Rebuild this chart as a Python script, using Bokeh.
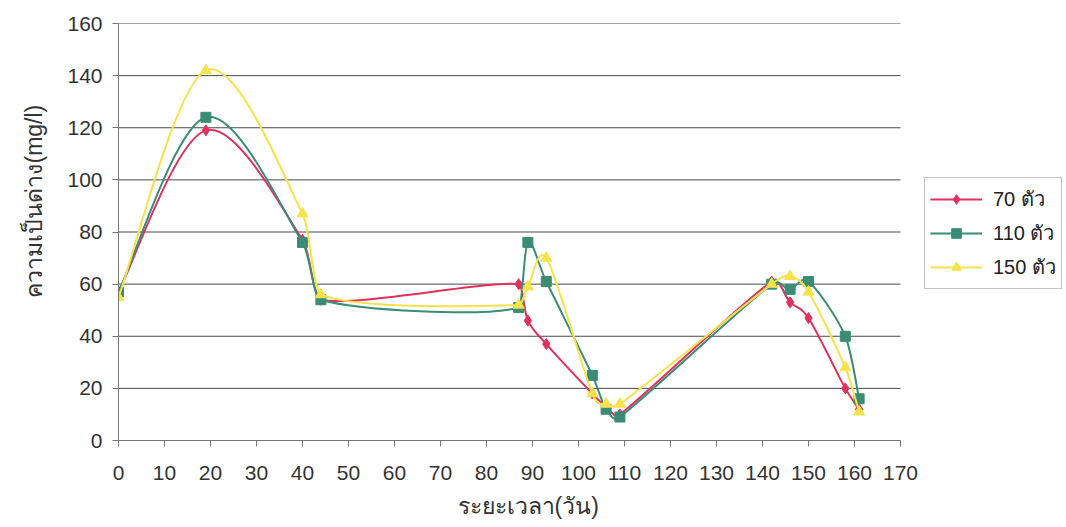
from bokeh.plotting import figure
from bokeh.models import Range1d, Legend, LegendItem, FixedTicker, ColumnDataSource, Title
from bokeh.embed import file_html
from bokeh.resources import INLINE

# ---- data ----
days = [0, 19, 40, 44, 87, 89, 93, 103, 106, 109, 142, 146, 150, 158, 161]
s70 = [57, 119, 77, 54, 60, 46, 37, 18, 13, 10, 61, 53, 47, 20, 12]
s110 = [57, 124, 76, 54, 51, 76, 61, 25, 12, 9, 60, 58, 61, 40, 16]
s150 = [55, 142, 87, 56, 52, 59, 70, 18, 14, 14, 60, 63, 57, 28, 11]
series_names = ["70 ตัว", "110 ตัว", "150 ตัว"]
x_ticks = list(range(0, 171, 10))
y_ticks = list(range(0, 161, 20))
x_title = "ระยะเวลา(วัน)"
y_title = "ความเป็นด่าง(mg/l)"
X_MAX = 170
Y_MAX = 160

colors = ["#E0305E", "#3A8C74", "#F6E24A"]
markers = ["diamond", "square", "triangle"]
msizes = [11, 10, 11]

FONT = "Liberation Sans"

# data 0..170 occupies 782 px of a 948 px wide frame; the rest holds the legend
FRAME_W = 948
DATA_W = 782
p = figure(width=1066, height=527, output_backend="svg", toolbar_location=None,
           x_range=Range1d(0, X_MAX * FRAME_W / DATA_W), y_range=Range1d(0, Y_MAX),
           min_border_left=118, min_border_top=23, min_border_bottom=87,
           min_border_right=0)
p.outline_line_color = None
p.background_fill_color = "white"
p.border_fill_color = "white"

p.xgrid.grid_line_color = None
p.ygrid.grid_line_color = None
# horizontal gridlines limited to the data area (0..170)
p.segment(x0=[0] * len(y_ticks), y0=y_ticks, x1=[X_MAX] * len(y_ticks), y1=y_ticks,
          line_color="#4a4a4a", line_width=1)

p.xaxis.ticker = FixedTicker(ticks=x_ticks)
p.yaxis.ticker = FixedTicker(ticks=y_ticks)
p.xaxis.bounds = (0, X_MAX)
for ax in (p.xaxis[0], p.yaxis[0]):
    ax.axis_line_color = "#777777"
    ax.major_tick_line_color = "#777777"
    ax.minor_tick_line_color = None
    ax.major_tick_in = 0
    ax.major_tick_out = 6
    ax.major_label_text_font = FONT
    ax.major_label_text_font_size = "21px"
    ax.major_label_text_color = "#333333"
p.xaxis.major_label_standoff = 19
p.yaxis.major_label_standoff = 10

# axis titles placed as Titles so they can be centred on the data area
tx = Title(text=x_title, align="left", offset=339, standoff=17,
           text_font=FONT, text_font_size="23px", text_font_style="normal",
           text_color="#333333")
p.add_layout(tx, "below")
ty = Title(text=y_title, align="left", offset=130, padding=13,
           text_font=FONT, text_font_size="23px", text_font_style="normal",
           text_color="#333333")
p.add_layout(ty, "left")


def smooth_segments(xs, ys):
    # Bezier control points (Excel-style smoothing) computed from the data points,
    # with handles limited so the curve does not loop back on short segments
    n = len(xs)
    seg = dict(x0=[], y0=[], x1=[], y1=[], cx0=[], cy0=[], cx1=[], cy1=[])
    for i in range(n - 1):
        xm, ym = (xs[i - 1], ys[i - 1]) if i > 0 else (xs[i], ys[i])
        xp, yp = (xs[i + 2], ys[i + 2]) if i + 2 < n else (xs[i + 1], ys[i + 1])
        dx = xs[i + 1] - xs[i]
        hx0, hy0 = (xs[i + 1] - xm) / 6, (ys[i + 1] - ym) / 6
        hx1, hy1 = (xp - xs[i]) / 6, (yp - ys[i]) / 6
        k0 = min(1.0, 0.45 * dx / hx0) if hx0 > 0 else 1.0
        k1 = min(1.0, 0.45 * dx / hx1) if hx1 > 0 else 1.0
        seg["x0"].append(xs[i]); seg["y0"].append(ys[i])
        seg["x1"].append(xs[i + 1]); seg["y1"].append(ys[i + 1])
        seg["cx0"].append(xs[i] + hx0 * k0)
        seg["cy0"].append(ys[i] + hy0 * k0)
        seg["cx1"].append(xs[i + 1] - hx1 * k1)
        seg["cy1"].append(ys[i + 1] - hy1 * k1)
    return ColumnDataSource(seg)


items = []
for vals, name, c, m, ms in zip([s70, s110, s150], series_names, colors, markers, msizes):
    src = smooth_segments(days, vals)
    rb = p.bezier(x0="x0", y0="y0", x1="x1", y1="y1", cx0="cx0", cy0="cy0",
                  cx1="cx1", cy1="cy1", source=src, line_color=c, line_width=2)
    rs = p.scatter(days, vals, marker=m, size=ms, fill_color=c, line_color=c)
    items.append(LegendItem(label=name, renderers=[rb, rs]))

legend = Legend(items=items, location=(806, 151))
legend.label_text_font = FONT
legend.label_text_font_size = "20px"
legend.label_text_color = "#222222"
legend.glyph_width = 52
legend.glyph_height = 24
legend.label_height = 24
legend.spacing = 2
legend.padding = 5
legend.margin = 0
legend.label_standoff = 11
legend.border_line_color = "#888888"
legend.border_line_width = 1
legend.background_fill_color = "white"
p.add_layout(legend, "center")

open("out.html", "w").write(file_html(p, INLINE))
